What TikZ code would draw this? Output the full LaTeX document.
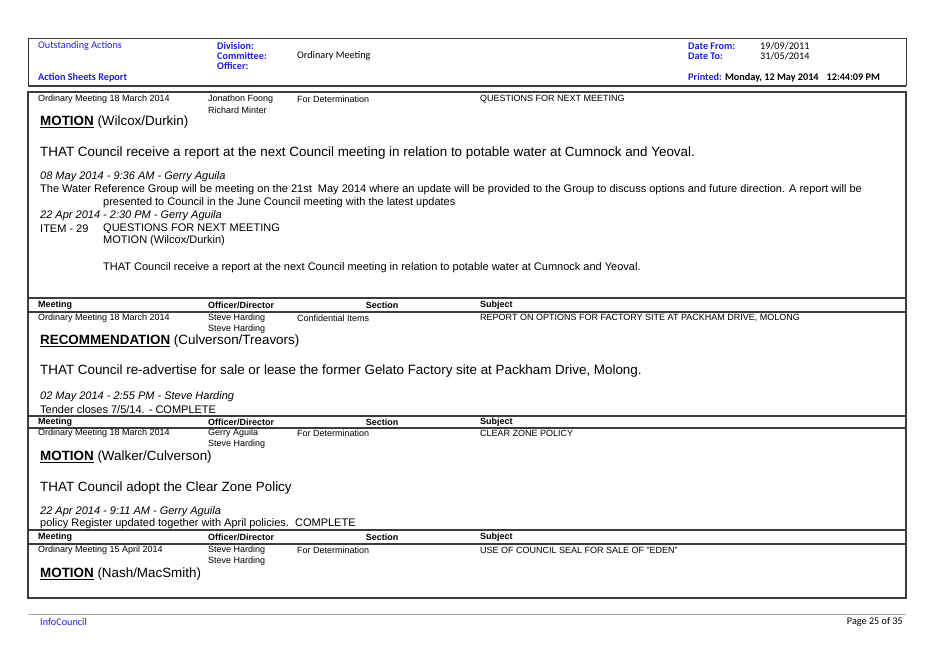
\documentclass[tikz,border=0pt]{standalone}
\usepackage{fontspec}
\setmainfont{Liberation Sans}
\newfontfamily\carlitofam{Carlito}
\definecolor{hblue}{RGB}{30,30,220}
\definecolor{frame}{RGB}{60,60,60}
\begin{document}
\begin{tikzpicture}[x=1pt,y=-1pt,
  every node/.style={inner sep=0pt,anchor=west,text=black},
  sm/.style={font=\fontsize{9}{10}\selectfont},
  smb/.style={font=\fontsize{9}{10}\selectfont\bfseries},
  md/.style={font=\fontsize{11}{12}\selectfont},
  mdi/.style={font=\fontsize{11}{12}\selectfont\itshape},
  lg/.style={font=\fontsize{13.4}{15}\selectfont},
  hd/.style={font=\carlitofam\fontsize{10.2}{11}\selectfont\bfseries,text=hblue},
  hn/.style={font=\carlitofam\fontsize{10.2}{11}\selectfont},
  rule/.style={draw=frame,line width=1.6pt},
  frm/.style={draw=frame,line width=1.3pt}]
\useasboundingbox (0,0) rectangle (939,664);
% header
\draw[frame,line width=0.8pt] (28,38) -- (906,38);
\draw[frame,line width=1.8pt] (28,86) -- (906,86);
\draw[frame,line width=0.8pt] (28,38) -- (28,86) (906,38) -- (906,86);
\node[hn,text=hblue] (h1) at (38,46) {Outstanding Actions};
\node[hd] (h2) at (217,46) {Division:};
\node[hd] (h3) at (217,56) {Committee:};
\node[hn] (h3v) at (297,56) {Ordinary Meeting};
\node[hd] (h4) at (217,66) {Officer:};
\node[hd] (h5) at (38,78) {Action Sheets Report};
\node[hd] (h6) at (688,46) {Date From:};
\node[hn] (h6v) at (760,46) {19/09/2011};
\node[hd] (h7) at (688,56) {Date To:};
\node[hn] (h7v) at (760,56) {31/05/2014};
\node[hd] (h8) at (688,78) {Printed: \textcolor{black}{Monday, 12 May 2014\hspace{8pt}12:44:09 PM}};
% main frame
\draw[frm] (28,92) rectangle (906,598);
% block 1
\node[sm] (a1) at (38,99) {Ordinary Meeting 18 March 2014};
\node[sm] (a2) at (208,99) {Jonathon Foong};
\node[sm] (a3) at (208,110) {Richard Minter};
\node[sm] (a4) at (297,99) {For Determination};
\node[sm] (a5) at (480,99) {QUESTIONS FOR NEXT MEETING};
\node[lg] (a6) at (40,122) {\underline{\textbf{MOTION}} (Wilcox/Durkin)};
\node[lg] (a7) at (40,153) {THAT Council receive a report at the next Council meeting in relation to potable water at Cumnock and Yeoval.};
\node[mdi] (a8) at (40,177) {08 May 2014 - 9:36 AM - Gerry Aguila};
\node[md] (a9) at (40,190) {The Water Reference Group will be meeting on the 21st\ \ May 2014 where an update will be provided to the Group to discuss options and future direction. A report will be};
\node[md] (a10) at (103,203) {presented to Council in the June Council meeting with the latest updates};
\node[mdi] (a11) at (40,216) {22 Apr 2014 - 2:30 PM - Gerry Aguila};
\node[md] (a12) at (40,229) {ITEM - 29};
\node[md] (a13) at (103,229) {QUESTIONS FOR NEXT MEETING};
\node[md] (a14) at (103,241) {MOTION (Wilcox/Durkin)};
\node[md] (a15) at (103,268) {THAT Council receive a report at the next Council meeting in relation to potable water at Cumnock and Yeoval.};
% block 2
\draw[rule] (28,298) -- (906,298);
\node[smb] (b0a) at (38,305) {Meeting};
\node[smb] (b0b) at (208,305) {Officer/Director};
\node[smb,anchor=center] (b0c) at (382,305) {Section};
\node[smb] (b0d) at (480,305) {Subject};
\draw[rule] (28,312) -- (906,312);
\node[sm] (b1) at (38,318) {Ordinary Meeting 18 March 2014};
\node[sm] (b2) at (208,318) {Steve Harding};
\node[sm] (b3) at (208,329) {Steve Harding};
\node[sm] (b4) at (297,318) {Confidential Items};
\node[sm] (b5) at (480,318) {REPORT ON OPTIONS FOR FACTORY SITE AT PACKHAM DRIVE, MOLONG};
\node[lg] (b6) at (40,341) {\underline{\textbf{RECOMMENDATION}} (Culverson/Treavors)};
\node[lg] (b7) at (40,371) {THAT Council re-advertise for sale or lease the former Gelato Factory site at Packham Drive, Molong.};
\node[mdi] (b8) at (40,397) {02 May 2014 - 2:55 PM - Steve Harding};
\node[md] (b9) at (40,410) {Tender closes 7/5/14. - COMPLETE};
% block 3
\draw[rule] (28,416) -- (906,416);
\node[smb] (c0a) at (38,422) {Meeting};
\node[smb] (c0b) at (208,422) {Officer/Director};
\node[smb,anchor=center] (c0c) at (382,422) {Section};
\node[smb] (c0d) at (480,422) {Subject};
\draw[rule] (28,428) -- (906,428);
\node[sm] (c1) at (38,433) {Ordinary Meeting 18 March 2014};
\node[sm] (c2) at (208,433) {Gerry Aguila};
\node[sm] (c3) at (208,444) {Steve Harding};
\node[sm] (c4) at (297,433) {For Determination};
\node[sm] (c5) at (480,433) {CLEAR ZONE POLICY};
\node[lg] (c6) at (40,457) {\underline{\textbf{MOTION}} (Walker/Culverson)};
\node[lg] (c7) at (40,488) {THAT Council adopt the Clear Zone Policy};
\node[mdi] (c8) at (40,512) {22 Apr 2014 - 9:11 AM - Gerry Aguila};
\node[md] (c9) at (40,524) {policy Register updated together with April policies.\ \ COMPLETE};
% block 4
\draw[rule] (28,530) -- (906,530);
\node[smb] (d0a) at (38,537) {Meeting};
\node[smb] (d0b) at (208,537) {Officer/Director};
\node[smb,anchor=center] (d0c) at (382,537) {Section};
\node[smb] (d0d) at (480,537) {Subject};
\draw[rule] (28,544) -- (906,544);
\node[sm] (d1) at (38,550) {Ordinary Meeting 15 April 2014};
\node[sm] (d2) at (208,550) {Steve Harding};
\node[sm] (d3) at (208,561) {Steve Harding};
\node[sm] (d4) at (297,550) {For Determination};
\node[sm] (d5) at (480,550) {USE OF COUNCIL SEAL FOR SALE OF "EDEN"};
\node[lg] (d6) at (40,574) {\underline{\textbf{MOTION}} (Nash/MacSmith)};
% footer
\draw[gray!70,line width=0.6pt] (28,614) -- (906,614);
\node[hn,text=hblue] (f1) at (40,622) {InfoCouncil};
\node[hn,anchor=east] (f2) at (903,622) {Page 25 of 35};
\end{tikzpicture}
\end{document}
